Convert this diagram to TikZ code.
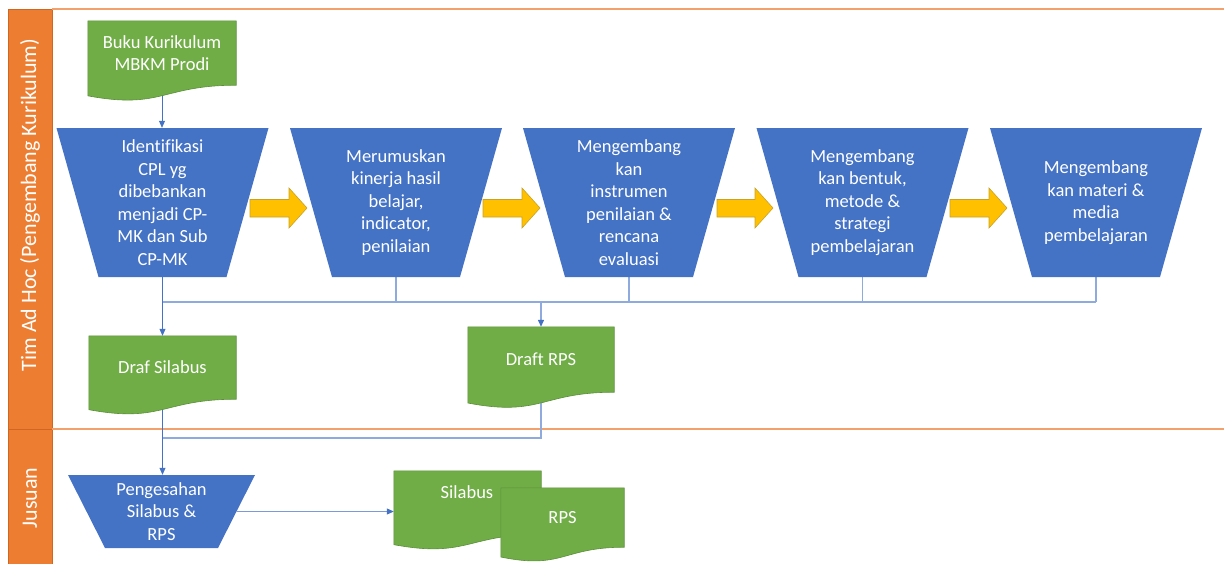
\documentclass[tikz,border=0pt]{standalone}
\usepackage{fontspec}
\setmainfont[Ligatures=NoCommon]{Carlito}
\usetikzlibrary{arrows.meta,backgrounds,calc}
\definecolor{cblue}{HTML}{4472C4}
\definecolor{clight}{HTML}{8FAADC}
\definecolor{cmid}{HTML}{7B9BD8}
\definecolor{cgreen}{HTML}{70AD47}
\definecolor{cgreendark}{HTML}{5A8F38}
\definecolor{corange}{HTML}{ED7D31}
\definecolor{corangedark}{HTML}{D0661F}
\definecolor{corangel}{HTML}{F2A06C}
\definecolor{cyel}{HTML}{FFC000}
\definecolor{cyeld}{HTML}{C9A227}
\newcommand\docfill[1]{\filldraw[fill=cgreen, draw=cgreendark, line width=0.6pt] (#1.north west) -- (#1.north east) -- (#1.south east) .. controls (#1.south) and ($(#1.south)!-0.38!(#1.north)$) .. ($(#1.south west)!-0.165!(#1.north west)$) -- cycle;}
\newcommand\blockarr[2]{\filldraw[fill=cyel, draw=cyeld, line width=0.6pt] (#1,199.5) -- (#2-18,199.5) -- (#2-18,188) -- (#2,208) -- (#2-18,228) -- (#2-18,217) -- (#1,217) -- cycle;}
\begin{document}
\begin{tikzpicture}[x=1pt,y=-1pt,
  txt/.style={font=\fontsize{18.5}{22.5}\selectfont, text=white, align=center, inner sep=0pt},
  trap/.style={txt, minimum width=212pt, minimum height=149pt,
    path picture={\fill[cblue] (path picture bounding box.north west) -- (path picture bounding box.north east) -- ([xshift=-#1]path picture bounding box.south east) -- ([xshift=#1]path picture bounding box.south west) -- cycle;}},
  trap/.default=42pt,
  doc/.style={txt},
  lanelab/.style={font=\fontsize{22}{26}\selectfont, text=white, inner sep=0pt, rotate=90},
  conn/.style={draw=cblue, line width=0.8pt},
  lconn/.style={draw=clight, line width=1.3pt},
  mconn/.style={draw=cmid, line width=1pt},
  arr/.style={-{Triangle[length=7pt,width=6pt,color=cblue]}}
]
\useasboundingbox (0,0) rectangle (1224,563);

% lane labels
\node[lanelab] (lane1) at (30,205) {Tim Ad Hoc (Pengembang Kurikulum)};
\node[lanelab] (lane2) at (30,498) {Jusuan};

% documents
\node[doc, minimum width=148pt, minimum height=64pt] (buku) at (162,53) {Buku Kurikulum\\MBKM Prodi};
\node[doc, minimum width=147pt, minimum height=63pt] (dsil) at (162.5,367.5) {Draf Silabus};
\node[doc, minimum width=146pt, minimum height=65pt] (drps) at (541,359.5) {Draft RPS};
\node[doc, minimum width=147pt, minimum height=63pt] (sil) at (467.5,502.5) {};
\node[txt] (silt) at (467,492) {Silabus};
\node[doc, minimum width=123pt, minimum height=59pt] (rps) at (562.5,517.5) {RPS};

% process trapezoids
\node[trap] (t1) at (162.5,202.5) {Identifikasi\\CPL yg\\dibebankan\\menjadi CP-\\MK dan Sub\\CP-MK};
\node[trap] (t2) at (396,202.5) {Merumuskan\\kinerja hasil\\belajar,\\indicator,\\penilaian};
\node[trap] (t3) at (629,202.5) {Mengembang\\kan\\instrumen\\penilaian \&\\rencana\\evaluasi};
\node[trap] (t4) at (862.5,202.5) {Mengembang\\kan bentuk,\\metode \&\\strategi\\pembelajaran};
\node[trap] (t5) at (1096,202.5) {Mengembang\\kan materi \&\\media\\pembelajaran};
\node[trap=37pt, minimum width=187pt, minimum height=73pt] (peng) at (161.5,511.5) {Pengesahan\\Silabus \&\\RPS};

% block arrows
\blockarr{250}{307}
\blockarr{483}{540}
\blockarr{717}{773}
\blockarr{950}{1007}

\coordinate (j1) at (541,302);
\coordinate (j2) at (162.5,438);

\begin{scope}[on background layer]
  % lanes
  \filldraw[fill=corange, draw=corangedark, line width=0.6pt] (8,9) rectangle (52,429);
  \filldraw[fill=corange, draw=corangedark, line width=0.6pt] (8,429) rectangle (52,570);
  \draw[corangel, line width=1.2pt] (52,9) -- (1224,9);
  \draw[corangel, line width=1.2pt] (52,429) -- (1224,429);
  % connectors
  \draw[conn, arr] (buku.south) -- (buku.south |- t1.north);
  \draw[conn, arr] (t1.south) -- (t1.south |- dsil.north);
  \draw[lconn] (t1.south |- j1) -- (t5.south |- j1);
  \foreach \t in {t2,t3,t4,t5} \draw[lconn] (\t.south) -- (\t.south |- j1);
  \draw[lconn, arr] (j1) -- (drps.north);
  \draw[conn, arr] (dsil.south) -- (dsil.south |- peng.north);
  \draw[lconn] (drps.south) |- (j2);
  \draw[mconn, arr] ([xshift=-18pt]peng.east) -- (sil.west |- peng.east);
  % document shapes
  \docfill{buku}
  \docfill{dsil}
  \docfill{drps}
  \docfill{sil}
  \docfill{rps}
\end{scope}
\end{tikzpicture}
\end{document}
